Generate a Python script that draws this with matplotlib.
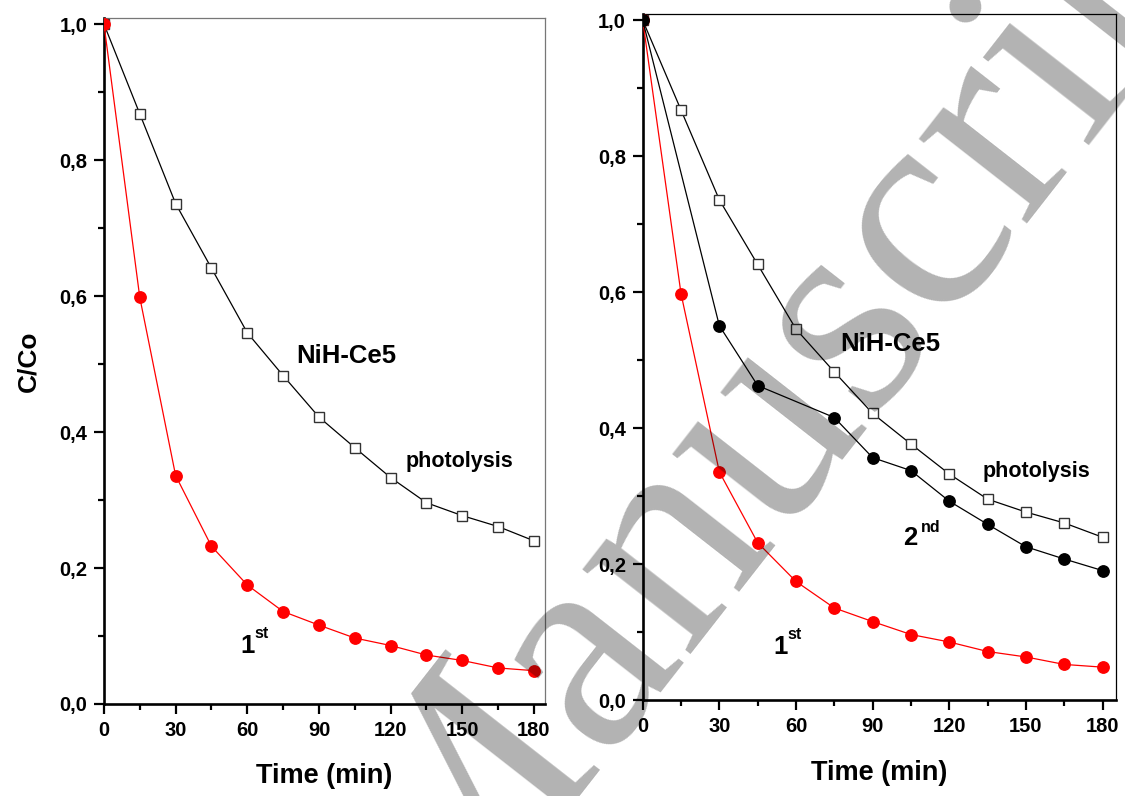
import matplotlib
matplotlib.use("Agg")
import matplotlib.pyplot as plt
from matplotlib.ticker import MultipleLocator, FixedLocator, FixedFormatter

plt.rcParams["font.family"] = ["Liberation Sans", "DejaVu Sans"]
plt.rcParams["font.weight"] = "bold"

# ── data ───────────────────────────────────────────────────────
time_min = [0, 15, 30, 45, 60, 75, 90, 105, 120, 135, 150, 165, 180]
photolysis = [1.0, 0.868, 0.736, 0.641, 0.546, 0.483, 0.422, 0.377,
              0.333, 0.296, 0.277, 0.261, 0.240]
first_run = [1.0, 0.598, 0.336, 0.232, 0.175, 0.136, 0.116, 0.097,
             0.086, 0.072, 0.064, 0.053, 0.049]
second_time = [0, 30, 45, 75, 90, 105, 120, 135, 150, 165, 180]
second_run = [1.0, 0.551, 0.463, 0.416, 0.357, 0.338, 0.293, 0.259,
              0.226, 0.208, 0.191]

x_ticks = [0, 30, 60, 90, 120, 150, 180]
y_ticks = [0.0, 0.2, 0.4, 0.6, 0.8, 1.0]
y_tick_labels = ["0,0", "0,2", "0,4", "0,6", "0,8", "1,0"]

fig = plt.figure(figsize=(11.25, 7.96), dpi=100, facecolor="white")

ax1 = fig.add_axes([0.0924, 0.1156, 0.392, 0.8618])
ax2 = fig.add_axes([0.5713, 0.1200, 0.4210, 0.8622])


def style_axes(ax, frame_color, xmax):
    ax.set_xlim(0, xmax)
    ax.set_ylim(0, 1.009)
    ax.xaxis.set_major_locator(FixedLocator(x_ticks))
    ax.xaxis.set_minor_locator(MultipleLocator(15))
    ax.yaxis.set_major_locator(FixedLocator(y_ticks))
    ax.yaxis.set_major_formatter(FixedFormatter(y_tick_labels))
    ax.yaxis.set_minor_locator(MultipleLocator(0.1))
    ax.tick_params(which="major", direction="out", length=7, width=1.6,
                   labelsize=14.5, pad=5)
    ax.tick_params(which="minor", direction="out", length=4, width=1.6)
    ax.tick_params(top=False, right=False, which="both")
    for lab in ax.get_xticklabels() + ax.get_yticklabels():
        lab.set_fontweight("bold")
    ax.spines["left"].set_linewidth(1.9)
    ax.spines["bottom"].set_linewidth(1.9)
    for side in ("top", "right"):
        ax.spines[side].set_linewidth(0.9)
        ax.spines[side].set_color(frame_color)
    ax.set_xlabel("Time (min)", fontsize=19.5, fontweight="bold")
    ax.xaxis.set_label_coords(0.5, -0.086)


def draw_common(ax):
    ax.plot(time_min, photolysis, color="black", linewidth=0.9,
            marker="s", markersize=7, markerfacecolor="white",
            markeredgecolor="#333333", markeredgewidth=1.0, zorder=3)
    ax.plot(time_min, first_run, color="#ff0000", linewidth=0.9,
            marker="o", markersize=8.2, markerfacecolor="#ff0000",
            markeredgecolor="#ff0000", zorder=4)


# ── left panel ────────────────────────────────────────────────
draw_common(ax1)
style_axes(ax1, "#777777", 184.6)
ax1.set_ylabel("C/Co", fontsize=19, fontweight="bold")
ax1.yaxis.set_label_coords(-0.145, 0.5)
ax1.text(80.4, 0.512, "NiH-Ce5", fontsize=18.5, fontweight="bold",
         ha="left", va="center")
ax1.text(126.4, 0.356, "photolysis", fontsize=15.5, fontweight="bold",
         ha="left", va="center")
ax1.text(56.9, 0.086, "1", fontsize=18.5, fontweight="bold",
         ha="left", va="center")
ax1.text(63.2, 0.104, "st", fontsize=11.5, fontweight="bold",
         ha="left", va="center")

# ── right panel ───────────────────────────────────────────────
draw_common(ax2)
ax2.plot(second_time, second_run, color="black", linewidth=0.9,
         marker="o", markersize=8.2, markerfacecolor="black",
         markeredgecolor="black", zorder=5)
style_axes(ax2, "black", 185.4)
ax2.text(77.4, 0.524, "NiH-Ce5", fontsize=18.5, fontweight="bold",
         ha="left", va="center")
ax2.text(133.1, 0.336, "photolysis", fontsize=15.5, fontweight="bold",
         ha="left", va="center")
ax2.text(102.1, 0.239, "2", fontsize=18.5, fontweight="bold",
         ha="left", va="center")
ax2.text(108.8, 0.254, "nd", fontsize=11.5, fontweight="bold",
         ha="left", va="center")
ax2.text(51.1, 0.079, "1", fontsize=18.5, fontweight="bold",
         ha="left", va="center")
ax2.text(56.6, 0.097, "st", fontsize=11.5, fontweight="bold",
         ha="left", va="center")

# watermark
fig.text(0.712, 0.515, "Manuscript", fontsize=215, fontweight="normal",
         family=["Liberation Serif", "DejaVu Serif"], color="black",
         alpha=0.3, rotation=52, ha="center", va="center",
         rotation_mode="anchor", zorder=10)

fig.savefig("out.png", dpi=100, facecolor="white")
